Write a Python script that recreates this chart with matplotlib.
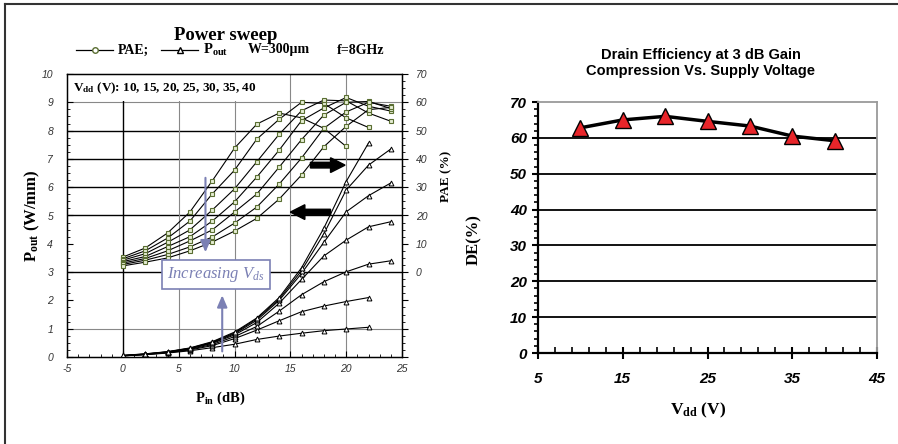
import matplotlib
matplotlib.use('Agg')
import matplotlib.pyplot as plt
from matplotlib.lines import Line2D
from matplotlib.patches import FancyArrow, Rectangle
from matplotlib.ticker import MultipleLocator, FixedLocator, FuncFormatter

SERIF = 'Liberation Serif'
SANS = 'Liberation Sans'
plt.rcParams['mathtext.fontset'] = 'custom'
plt.rcParams['mathtext.rm'] = SERIF
plt.rcParams['mathtext.it'] = SERIF + ':italic'
plt.rcParams['mathtext.bf'] = SERIF + ':bold'
plt.rcParams['axes.unicode_minus'] = False

# ---- power sweep data ----
pin = [0, 2, 4, 6, 8, 10, 12, 14, 16, 18, 20, 22, 24]
vdd = [10, 15, 20, 25, 30, 35, 40]

# PAE (%) for each Vdd
pae_10 = [5.3, 8.5, 13.8, 21.2, 32.2, 43.8, 52.3, 56.2, 54.5, 50.8, 44.4]
pae_15 = [4.7, 7.5, 12.0, 18.0, 27.6, 36.0, 47.0, 54.0, 60.0, 59.6, 54.5, 51.1]
pae_20 = [4.2, 6.5, 10.5, 14.9, 21.9, 29.4, 39.0, 48.7, 57.0, 60.8, 60.5, 56.2, 53.3]
pae_25 = [3.7, 5.5, 9.0, 12.5, 18.0, 24.8, 33.6, 43.1, 53.5, 58.0, 61.7, 58.6, 56.9]
pae_30 = [3.2, 4.8, 7.5, 11.0, 14.9, 21.2, 27.6, 37.1, 46.8, 55.5, 60.0, 60.3, 57.8]
pae_35 = [2.7, 4.2, 6.2, 8.9, 12.4, 17.3, 23.0, 31.1, 40.3, 50.8, 56.6, 60.0, 58.6]
pae_40 = [2.2, 3.5, 5.0, 7.5, 10.6, 14.5, 19.0, 25.8, 34.3, 44.3, 51.5, 57.4, 58.2]

# Pout (W/mm) for each Vdd
pout_10 = [0.04, 0.08, 0.14, 0.22, 0.33, 0.45, 0.62, 0.74, 0.84, 0.93, 0.99, 1.05]
pout_15 = [0.04, 0.09, 0.15, 0.25, 0.40, 0.65, 0.95, 1.28, 1.60, 1.80, 1.96, 2.10]
pout_20 = [0.04, 0.09, 0.16, 0.27, 0.44, 0.72, 1.08, 1.62, 2.20, 2.66, 3.01, 3.28, 3.40]
pout_25 = [0.05, 0.10, 0.17, 0.29, 0.48, 0.78, 1.22, 1.90, 2.74, 3.57, 4.13, 4.60, 4.78]
pout_30 = [0.05, 0.10, 0.18, 0.30, 0.50, 0.82, 1.30, 2.00, 2.95, 4.05, 5.13, 5.70, 6.15]
pout_35 = [0.05, 0.11, 0.18, 0.31, 0.52, 0.85, 1.35, 2.05, 3.05, 4.35, 5.90, 6.78, 7.35]
pout_40 = [0.06, 0.11, 0.19, 0.32, 0.54, 0.88, 1.38, 2.10, 3.15, 4.55, 6.20, 7.56]

pae_curves = [pae_10, pae_15, pae_20, pae_25, pae_30, pae_35, pae_40]
pout_curves = [pout_10, pout_15, pout_20, pout_25, pout_30, pout_35, pout_40]

# ---- drain efficiency data ----
de_vdd = [10, 15, 20, 25, 30, 35, 40]
de_pct = [62.8, 65.0, 66.0, 64.6, 63.3, 60.5, 59.2]

W, H = 898, 444
fig = plt.figure(figsize=(W / 100, H / 100), dpi=100)

# page frame (top and left edges only)
fig.add_artist(Line2D([5 / W, 1], [1 - 4 / H, 1 - 4 / H], color='#333333', lw=1.5))
fig.add_artist(Line2D([5 / W, 5 / W], [0, 1 - 4 / H], color='#333333', lw=1.5))

# ================= left: power sweep =================
ax = fig.add_axes([67 / W, 1 - 357 / H, 335 / W, 283 / H])
ax.set_xlim(-5, 25)
ax.set_ylim(0, 10)
ax2 = ax.twinx()
ax2.set_ylim(-30, 70)

# grid lines
for y in [3, 5, 6, 7, 8]:
    ax.axhline(y, color='black', lw=1.0, zorder=1)
for y in [1, 9]:
    ax.axhline(y, color='#888888', lw=0.8, zorder=1)
ax.axvline(0, color='black', lw=1.0, zorder=1)
for x in [5, 10, 15, 20]:
    ax.axvline(x, color='#888888', lw=0.8, zorder=1)

# white box behind the Vdd list
ax.add_patch(Rectangle((-5, 9.05), 19.2, 0.93, fc='white', ec='none', zorder=2))
ax.text(-4.5, 9.5, r'$\mathbf{V_{dd}}$ (V): 10, 15, 20, 25, 30, 35, 40',
        fontfamily=SERIF, fontweight='bold', fontsize=9.5, va='center', zorder=3)

for vals in pout_curves:
    ax.plot(pin[:len(vals)], vals, color='black', lw=0.8, marker='^', ms=3.5,
            mfc='white', mec='black', mew=0.7, zorder=3)
for vals in pae_curves:
    ax2.plot(pin[:len(vals)], vals, color='black', lw=0.8, marker='s', ms=3.2,
             mfc='#e6eed4', mec='#5a6e32', mew=0.8, zorder=3)

for s in ax.spines.values():
    s.set_color('black')
    s.set_linewidth(1.0)

ax.xaxis.set_major_locator(MultipleLocator(5))
ax.xaxis.set_minor_locator(MultipleLocator(1))
ax.yaxis.set_major_locator(MultipleLocator(1))
ax.yaxis.set_minor_locator(MultipleLocator(0.25))
ax.tick_params(axis='both', which='major', direction='in', length=4, width=0.8,
               labelsize=7.5, labelcolor='#333333')
ax.tick_params(axis='both', which='minor', direction='in', length=2, width=0.6)
ax.tick_params(axis='y', pad=10)
ax.tick_params(axis='x', pad=5)
for lab in ax.get_xticklabels() + ax.get_yticklabels():
    lab.set_fontfamily(SANS)
    lab.set_fontstyle('italic')

ax2.yaxis.set_major_locator(MultipleLocator(10))
ax2.yaxis.set_minor_locator(MultipleLocator(2.5))
ax2.yaxis.set_major_formatter(FuncFormatter(lambda v, p: '' if v < 0 else '%d' % v))
ax2.tick_params(axis='y', which='major', direction='out', length=4, width=0.8,
                labelsize=7.5, labelcolor='#333333', pad=6)
ax2.tick_params(axis='y', which='minor', direction='out', length=2, width=0.6)
for lab in ax2.get_yticklabels():
    lab.set_fontfamily(SANS)
    lab.set_fontstyle('italic')

ax.set_xlabel(r'$\mathbf{P_{in}}$ (dB)', fontfamily=SERIF, fontweight='bold', fontsize=10.5)
ax.xaxis.set_label_coords(0.457, -0.115)
ax.set_ylabel(r'$\mathbf{P_{out}}$ (W/mm)', fontfamily=SERIF, fontweight='bold', fontsize=12)
ax.yaxis.set_label_coords(-0.075, 0.5)
ax2.set_ylabel('PAE (%)', fontfamily=SERIF, fontweight='bold', fontsize=9.5)
ax2.yaxis.set_label_coords(1.113, 0.64)

# annotations
vcol = '#7b80b4'
ax2.annotate('', xy=(7.4, 6.0), xytext=(7.4, 34.3),
             arrowprops=dict(arrowstyle='-|>,head_width=0.3,head_length=0.7', color=vcol, lw=1.5),
             zorder=6)
ax2.annotate('', xy=(8.9, -7.2), xytext=(8.9, -29.0),
             arrowprops=dict(arrowstyle='-|>,head_width=0.3,head_length=0.7', color=vcol, lw=1.5),
             zorder=6)
ax2.text(8.35, -1.0, r'Increasing $V_{ds}$', ha='center', va='center', color=vcol,
         fontfamily=SERIF, fontstyle='italic', fontsize=12, zorder=7,
         bbox=dict(boxstyle='square,pad=0.3', fc='white', ec=vcol, lw=1.2))
ax2.add_patch(FancyArrow(16.8, 37.8, 3.1, 0, width=2.0, head_width=5.2, head_length=1.3,
                         length_includes_head=True, fc='black', ec='black', zorder=6))
ax2.add_patch(FancyArrow(18.6, 21.2, -3.6, 0, width=2.0, head_width=5.2, head_length=1.3,
                         length_includes_head=True, fc='black', ec='black', zorder=6))

# title and legend row
fig.text(226 / W, 1 - 35 / H, 'Power sweep', ha='center', va='center',
         fontfamily=SERIF, fontweight='bold', fontsize=13.5)
ly = 1 - 50 / H
fig.add_artist(Line2D([76 / W, 113 / W], [ly, ly], color='black', lw=0.9))
fig.add_artist(Line2D([94.5 / W], [ly], marker='o', ms=4, mfc='white', mec='#5a6e32', mew=1))
fig.text(118 / W, ly, 'PAE;', va='center', fontfamily=SERIF, fontweight='bold', fontsize=10)
fig.add_artist(Line2D([161 / W, 198 / W], [ly, ly], color='black', lw=0.9))
fig.add_artist(Line2D([179.5 / W], [ly], marker='^', ms=4, mfc='white', mec='black', mew=1))
fig.text(203 / W, ly, r'$\mathbf{P_{out}}$', va='center', fontsize=10.5)
fig.text(248 / W, ly, 'W=300µm', va='center', fontfamily=SERIF, fontweight='bold', fontsize=10)
fig.text(337 / W, ly, 'f=8GHz', va='center', fontfamily=SERIF, fontweight='bold', fontsize=10)

# ================= right: drain efficiency =================
bx = fig.add_axes([538 / W, 1 - 353 / H, 339 / W, 251 / H])
bx.set_xlim(5, 45)
bx.set_ylim(0, 70)
for y in [10, 20, 30, 40, 50, 60]:
    bx.axhline(y, color='black', lw=1.3, zorder=1)
bx.plot(de_vdd, de_pct, color='black', lw=2.5, marker='^', ms=11,
        mfc='#e8252a', mec='black', mew=1.0, zorder=3, clip_on=False)

bx.spines['left'].set_linewidth(1.6)
bx.spines['bottom'].set_linewidth(1.6)
bx.spines['top'].set_color('#9a9a9a')
bx.spines['right'].set_color('#9a9a9a')
bx.spines['top'].set_linewidth(1.3)
bx.spines['right'].set_linewidth(1.3)

bx.set_xticks([5, 15, 25, 35, 45])
bx.xaxis.set_minor_locator(FixedLocator(list(range(5, 46, 2))))
bx.set_yticks(list(range(0, 71, 10)))
bx.yaxis.set_minor_locator(MultipleLocator(2))
bx.tick_params(axis='x', which='major', direction='inout', length=9, width=1.5, pad=9)
bx.tick_params(axis='x', which='minor', direction='in', length=4, width=1.2)
bx.tick_params(axis='y', which='major', direction='out', length=4, width=1.5, pad=4)
bx.tick_params(axis='y', which='minor', direction='out', length=3, width=1.2)
for lab in bx.get_xticklabels() + bx.get_yticklabels():
    lab.set_fontfamily(SANS)
    lab.set_fontweight('bold')
    lab.set_fontstyle('italic')
    lab.set_fontsize(11)

bx.set_ylabel('DE(%)', fontfamily=SERIF, fontweight='bold', fontsize=12)
bx.yaxis.set_label_coords(-0.165, 0.45)
bx.set_xlabel(r'$\mathbf{V_{dd}}$ (V)', fontfamily=SERIF, fontweight='bold', fontsize=12.5)
bx.xaxis.set_label_coords(0.472, -0.19)

fig.text(701 / W, 1 - 63 / H, 'Drain Efficiency at 3 dB Gain\nCompression Vs. Supply Voltage',
         ha='center', va='center', fontfamily=SANS, fontweight='bold', fontsize=10.5,
         linespacing=1.15)

fig.savefig('out.png', dpi=100)
